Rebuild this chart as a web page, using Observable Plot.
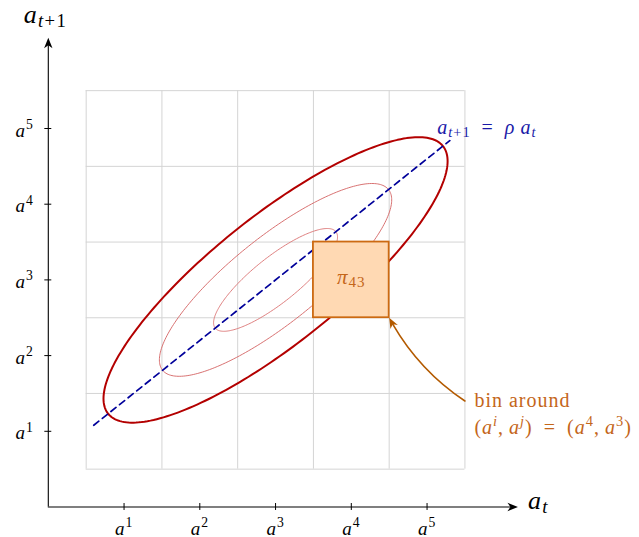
<!DOCTYPE html>
<html>
<head>
<meta charset="utf-8">
<script src="https://cdn.jsdelivr.net/npm/d3@7"></script>
<script src="https://cdn.jsdelivr.net/npm/@observablehq/plot@0.6"></script>
<style>
  html, body { margin: 0; padding: 0; background: #fff; }
  #chart svg text { white-space: pre; font-family: "Liberation Serif", serif; }
</style>
</head>
<body>
<div id="chart"></div>
<script>
// Grid states a^1 ... a^5 on both axes
const states = [1, 2, 3, 4, 5];
const stateLabels = ["$a^{1}$", "$a^{2}$", "$a^{3}$", "$a^{4}$", "$a^{5}$"];
const gridLines = [0.5, 1.5, 2.5, 3.5, 4.5, 5.5];
const axisEnd = 6.2;

// AR(1) mean line a_{t+1} = rho a_t (centred on the mean state)
const rho = 0.8;
const meanState = 3;
const lineFrom = 0.6;
const lineTo = 5.3;

// Probability contours of the joint density (semi-axes along the mean line)
const contourNames = ["outer", "middle", "inner"];
const semiMajor = [2.83, 1.91, 1.02];
const semiMinor = [0.84, 0.57, 0.30];
const contourColors = ["#b30000", "#d46262", "#da7272"];
const contourWidths = [2, 0.9, 0.9];

// Highlighted bin pi_{43}
const binI = 4;
const binJ = 3;
const binLabel = "$\u03c0_{43}$";

// Annotation
const noteLines = ["bin around", "$(a^{i},\u2009a^{j})\u2002=\u2002(a^{4},\u2009a^{3})$"];
const noteAnchor = {x: 5.5, y: 1.4};
const noteBend = 14;
const lineLabel = "$a_{t+1}\u2002=\u2002\u03c1\u2009a_{t}$";

// ---- derived tables -------------------------------------------------------
const tilt = Math.atan(rho);
const contourPts = [];
contourNames.forEach((name, k) => {
  for (let s = 0; s <= 240; s++) {
    const th = (2 * Math.PI * s) / 240;
    const u = semiMajor[k] * Math.cos(th), v = semiMinor[k] * Math.sin(th);
    contourPts.push({
      name, k,
      x: meanState + u * Math.cos(tilt) - v * Math.sin(tilt),
      y: meanState + u * Math.sin(tilt) + v * Math.cos(tilt)
    });
  }
});
const meanLine = [lineFrom, lineTo].map(x => ({x, y: meanState + rho * (x - meanState)}));
const pointer = [{x1: noteAnchor.x, y1: noteAnchor.y, x2: binI + 0.5, y2: binJ - 0.5}];

// LaTeX-like "stealth" arrowhead, tip at the origin, pointing along +x
const stealth = {
  draw(ctx) {
    ctx.moveTo(0, 0);
    ctx.lineTo(-10.5, -4.2);
    ctx.lineTo(-7.5, 0);
    ctx.lineTo(-10.5, 4.2);
    ctx.closePath();
  }
};

const X0 = 47.8, UX = 75.75, Y0 = 506.5, UY = 75.7;
const orange = "#c4661a";

// direction of the bent pointer where it meets the bin corner (screen degrees)
const p = pointer[0];
const chordDeg = Math.atan2(-(p.y2 - p.y1) * UY, (p.x2 - p.x1) * UX) * 180 / Math.PI;
const pointerHeadDeg = chordDeg + noteBend;

const chart = Plot.plot({
  width: 639,
  height: 537,
  margin: 0,
  style: {fontFamily: "'Liberation Serif', serif", background: "#fff"},
  x: {domain: [0, 1], range: [X0, X0 + UX], axis: null},
  y: {domain: [0, 1], range: [Y0, Y0 - UY], axis: null},
  marks: [
    // grid
    Plot.ruleX(gridLines, {x: d => d, y1: gridLines[0], y2: gridLines[gridLines.length - 1], stroke: "#d4d4d4", strokeWidth: 1}),
    Plot.ruleY(gridLines, {y: d => d, x1: gridLines[0], x2: gridLines[gridLines.length - 1], stroke: "#d4d4d4", strokeWidth: 1}),
    // contours
    ...contourNames.map((name, k) => Plot.line(contourPts.filter(d => d.name === name), {
      x: "x", y: "y", stroke: contourColors[k], strokeWidth: contourWidths[k], curve: "linear"
    })),
    // mean line
    Plot.line(meanLine, {x: "x", y: "y", stroke: "#00009a", strokeWidth: 1.7, strokeDasharray: "6.5,4.5"}),
    // highlighted bin
    Plot.rect([{i: binI, j: binJ}], {
      x1: d => d.i - 0.5, x2: d => d.i + 0.5, y1: d => d.j - 0.5, y2: d => d.j + 0.5,
      fill: "#ffd9b3", stroke: "#cc6a12", strokeWidth: 1.8
    }),
    // axes
    Plot.ruleY([0], {x1: 0, x2: axisEnd - 0.08, stroke: "black", strokeWidth: 1.1}),
    Plot.ruleX([0], {y1: 0, y2: axisEnd - 0.08, stroke: "black", strokeWidth: 1.1}),
    Plot.dot([{x: axisEnd, y: 0}], {x: "x", y: "y", symbol: stealth, fill: "black", stroke: null, rotate: 0}),
    Plot.dot([{x: 0, y: axisEnd}], {x: "x", y: "y", symbol: stealth, fill: "black", stroke: null, rotate: -90}),
    // ticks
    Plot.ruleX(states, {x: d => d, y1: -0.046, y2: 0.046, stroke: "black", strokeWidth: 1}),
    Plot.ruleY(states, {y: d => d, x1: -0.046, x2: 0.046, stroke: "black", strokeWidth: 1}),
    // tick labels
    Plot.text(states, {x: d => d, y: 0, dy: 27.5, text: (d, i) => stateLabels[i], fontSize: 19, className: "rich", textAnchor: "middle"}),
    Plot.text(states, {x: 0, y: d => d, dx: -14.5, dy: 8, text: (d, i) => stateLabels[i], fontSize: 19, className: "rich", textAnchor: "end"}),
    // axis names
    Plot.text(["$a_{t}$"], {x: axisEnd, y: 0, dx: 10, dy: 2, text: d => d, fontSize: 26, className: "rich", textAnchor: "start"}),
    Plot.text(["$a_{t+1}$"], {x: 0, y: axisEnd, dx: -24.5, dy: -15, text: d => d, fontSize: 26, className: "rich", textAnchor: "start"}),
    // labels
    Plot.text([lineLabel], {x: lineTo, y: meanState + rho * (lineTo - meanState), dx: -12.5, dy: -7, text: d => d, fontSize: 20, fill: "#1a1aa8", className: "rich", textAnchor: "start"}),
    Plot.text([binLabel], {x: binI, y: binJ, dy: 4, text: d => d, fontSize: 21, fill: orange, className: "rich", textAnchor: "middle"}),
    Plot.text([noteLines[0]], {x: noteAnchor.x, y: noteAnchor.y, dx: 9.5, dy: 6, text: d => d, fontSize: 20, fill: orange, className: "rich", textAnchor: "start"}),
    Plot.text([noteLines[1]], {x: noteAnchor.x, y: noteAnchor.y, dx: 9.5, dy: 32.5, text: d => d, fontSize: 20, fill: orange, className: "rich", textAnchor: "start"}),
    // pointer to the bin corner
    Plot.arrow(pointer, {
      x1: "x1", y1: "y1", x2: "x2", y2: "y2", bend: noteBend, stroke: "#b35a00", strokeWidth: 1.6,
      headLength: 0, insetEnd: 7
    }),
    Plot.dot(pointer, {x: "x2", y: "y2", symbol: stealth, fill: "#b35a00", stroke: null, rotate: pointerHeadDeg})
  ]
});

document.getElementById("chart").appendChild(chart);

// Render "$...$" spans as math: italic letters, ^{..} superscripts, _{..} subscripts
function parseRich(src) {
  const runs = [];
  let math = false;
  let i = 0;
  function push(text, level) {
    for (const ch of text) {
      const italic = math && /[A-Za-z\u03b1-\u03c9]/.test(ch);
      const last = runs[runs.length - 1];
      if (last && last.italic === italic && last.level === level) last.text += ch;
      else runs.push({text: ch, italic, level});
    }
  }
  while (i < src.length) {
    const ch = src[i];
    if (ch === "$") { math = !math; i++; continue; }
    if (math && (ch === "^" || ch === "_")) {
      const level = ch === "^" ? 1 : -1;
      i++;
      let grp;
      if (src[i] === "{") {
        const j = src.indexOf("}", i);
        grp = src.slice(i + 1, j);
        i = j + 1;
      } else { grp = src[i]; i++; }
      push(grp, level);
      continue;
    }
    push(ch, 0);
    i++;
  }
  return runs;
}

document.querySelectorAll("#chart .rich text").forEach(el => {
  const src = el.textContent;
  const sizeHost = el.closest("[font-size]");
  const base = sizeHost ? parseFloat(sizeHost.getAttribute("font-size")) : 16;
  const runs = parseRich(src);
  el.textContent = "";
  el.removeAttribute("y");
  el.removeAttribute("dy");
  el.setAttribute("font-family", "Liberation Serif");
  el.setAttribute("letter-spacing", (0.05 * base).toFixed(2));
  let shift = 0;
  for (const r of runs) {
    const t = document.createElementNS("http://www.w3.org/2000/svg", "tspan");
    const target = r.level === 1 ? -0.4 * base : r.level === -1 ? 0.16 * base : 0;
    if (target !== shift) { t.setAttribute("dy", (target - shift).toFixed(2)); shift = target; }
    if (r.level !== 0) t.setAttribute("font-size", (0.72 * base).toFixed(2));
    if (r.italic) t.setAttribute("font-style", "italic");
    t.textContent = r.text;
    el.appendChild(t);
  }
});
</script>
</body>
</html>
